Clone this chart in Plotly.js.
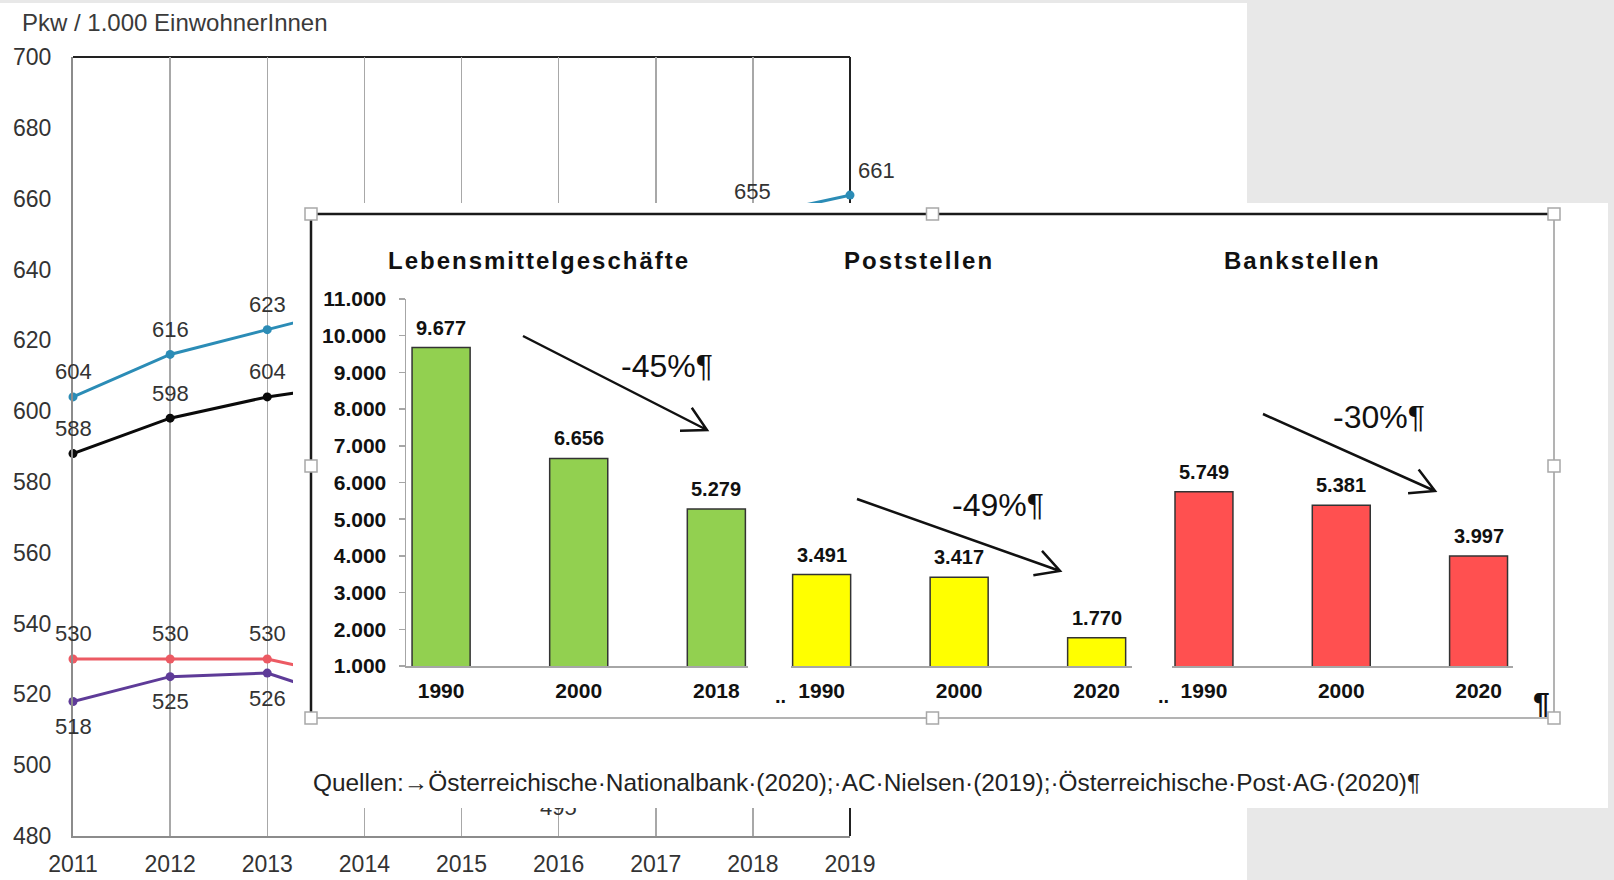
<!DOCTYPE html>
<html><head><meta charset="utf-8">
<script src="https://cdn.plot.ly/plotly-3.0.1.min.js"></script>
<style>
html,body{margin:0;padding:0;background:#e8e8e8;width:1614px;height:880px;overflow:hidden;}
#bg{position:absolute;left:0;top:3px;width:1247px;height:877px;background:#fff;}
#ov{position:absolute;left:293px;top:203px;width:1315px;height:605px;background:#fff;}
#ov .annotation[data-index="0"] text,#ov .annotation[data-index="1"] text,#ov .annotation[data-index="2"] text{letter-spacing:2px;}
</style></head><body>
<div id="bg"></div><div id="ov"></div>
<script>
// ---------- data: background line chart ----------
const years = [2011, 2012, 2013, 2014, 2015, 2016, 2017, 2018, 2019];
const blueVals = [604, 616, 623, 630, 636, 642, 648, 655, 661];
const blackVals = [588, 598, 604, 608, 612, 616, 620, 624, 628];
const redVals = [530, 530, 530, 524, 520, 517, 514, 512, 510];
const purpleVals = [518, 525, 526, 517, 506, 495, 500, 503, 505];
const yTicksLine = [480, 500, 520, 540, 560, 580, 600, 620, 640, 660, 680, 700];
const lineTitle = 'Pkw / 1.000 EinwohnerInnen';

// ---------- data: overlay bar charts ----------
const lebYears = ['1990', '2000', '2018'];
const lebVals = [9677, 6656, 5279];
const postYears = ['1990', '2000', '2020'];
const postVals = [3491, 3417, 1770];
const bankYears = ['1990', '2000', '2020'];
const bankVals = [5749, 5381, 3997];
const barTicks = [1000, 2000, 3000, 4000, 5000, 6000, 7000, 8000, 9000, 10000, 11000];
const panelTitles = ['Lebensmittelgeschäfte', 'Poststellen', 'Bankstellen'];
const changeLabels = ['-45%¶', '-49%¶', '-30%¶'];
const sourceText = 'Quellen:→Österreichische·Nationalbank·(2020);·AC·Nielsen·(2019);·Österreichische·Post·AG·(2020)¶';

const FONT = 'Arial, "Liberation Sans", sans-serif';

// overlay box on the page (pixels)
const OX = 293, OY = 203, OW = 1315, OH = 605;

// ================= background line chart =================
(function () {
  const ML = 73, MT = 54, PW = 777, PH = 779, TOP = 3;
  const series = [
    {vals: blueVals, color: '#2b8cb6', dir: 1},
    {vals: blackVals, color: '#0a0a0a', dir: 1},
    {vals: redVals, color: '#ec5a63', dir: 1},
    {vals: purpleVals, color: '#5e3b98', dir: -1}
  ];
  const traces = series.map(s => ({
    type: 'scatter', mode: 'lines+markers', x: years, y: s.vals,
    line: {color: s.color, width: 3}, marker: {size: 9, color: s.color},
    cliponaxis: false, hoverinfo: 'skip'
  }));
  // page position of a label, used only to skip labels that the overlay box covers
  const covered = (yr, v, dir) => {
    const x = ML + (yr - years[0]) / (years[years.length - 1] - years[0]) * PW;
    const y = TOP + MT + (700 - v) / 220 * PH - dir * 25;
    return x > OX && x < OX + OW && y > OY + 8 && y < OY + OH - 8;
  };
  const annots = [];
  series.forEach((s, si) => s.vals.forEach((v, i) => {
    if (covered(years[i], v, s.dir)) return;
    annots.push({
      x: years[i], y: v, xref: 'x', yref: 'y', text: String(v), showarrow: false,
      yanchor: 'middle', yshift: s.dir * 25,
      xshift: (si === 0 && i === years.length - 1) ? 26 : 0,
      font: {family: FONT, size: 22, color: '#333'}
    });
  }));
  annots.push({
    text: lineTitle, xref: 'paper', yref: 'paper', x: (20 - ML) / PW, y: 1 + 34.4 / PH,
    xanchor: 'left', yanchor: 'middle', showarrow: false,
    font: {family: FONT, size: 24, color: '#3a3a3a'}
  });
  const layout = {
    width: 1247, height: 877,
    margin: {l: ML, r: 1247 - ML - PW, t: MT, b: 877 - MT - PH, pad: 0},
    paper_bgcolor: '#ffffff', plot_bgcolor: '#ffffff', showlegend: false,
    xaxis: {
      range: [2011, 2019], tickvals: years, showgrid: true, gridcolor: '#a8a8a8', gridwidth: 1.5,
      showline: true, linecolor: '#8c8c8c', linewidth: 2, ticks: '', zeroline: false,
      tickfont: {family: FONT, size: 23, color: '#333'}, ticklabelstandoff: 6
    },
    yaxis: {
      range: [480, 700], tickvals: yTicksLine, showgrid: false, showline: true,
      linecolor: '#8c8c8c', linewidth: 2, ticks: '', zeroline: false,
      tickfont: {family: FONT, size: 23, color: '#333'}, ticklabelstandoff: 15
    },
    shapes: [
      {type: 'line', xref: 'paper', yref: 'paper', x0: 0, x1: 1, y0: 1, y1: 1, line: {color: '#222', width: 2}, layer: 'between'},
      {type: 'line', xref: 'paper', yref: 'paper', x0: 1, x1: 1, y0: 0, y1: 1, line: {color: '#222', width: 2}, layer: 'between'}
    ],
    annotations: annots
  };
  Plotly.newPlot('bg', traces, layout, {staticPlot: true, displayModeBar: false});
})();

// ================= overlay with bar charts =================
(function () {
  const px = x => (x - OX) / OW;
  const py = y => 1 - (y - OY) / OH;
  const yDom = [py(666), py(299)];
  const panels = [
    {cats: lebYears, vals: lebVals, color: '#92d050', xd: [406, 748], xr: [-0.255, 2.23]},
    {cats: postYears, vals: postVals, color: '#ffff00', xd: [790.7, 1131.7], xr: [-0.225, 2.255]},
    {cats: bankYears, vals: bankVals, color: '#ff5050', xd: [1171.7, 1513.3], xr: [-0.235, 2.253]}
  ];
  const fmt = v => String(v).replace(/\B(?=(\d{3})+(?!\d))/g, '.');
  const traces = [];
  const layout = {
    width: OW, height: OH, margin: {l: 0, r: 0, t: 0, b: 0, pad: 0},
    paper_bgcolor: '#ffffff', plot_bgcolor: 'rgba(0,0,0,0)', showlegend: false,
    separators: ',.', bargap: 0.578, shapes: [], annotations: []
  };
  const titlePos = [[539, 260], [919, 261], [1302, 261]];
  panelTitles.forEach((t, i) => layout.annotations.push({
    text: t, xref: 'paper', yref: 'paper', x: px(titlePos[i][0]), y: py(titlePos[i][1]),
    xanchor: 'center', yanchor: 'middle', showarrow: false,
    font: {family: FONT, size: 24, color: '#111', weight: 'bold'}
  }));
  panels.forEach((p, i) => {
    const n = i === 0 ? '' : String(i + 1);
    traces.push({
      type: 'bar', x: p.cats, y: p.vals, xaxis: 'x' + n, yaxis: 'y' + n,
      marker: {color: p.color, line: {color: '#333', width: 1.5}}, hoverinfo: 'skip'
    });
    layout['xaxis' + n] = {
      domain: [px(p.xd[0]), px(p.xd[1])], range: p.xr, type: 'category', anchor: 'y' + n,
      showline: true, linecolor: '#a6a6a6', linewidth: 2, ticks: '', showgrid: false, zeroline: false,
      tickfont: {family: FONT, size: 21, color: '#111', weight: 'bold'}, ticklabelstandoff: 5
    };
    const ya = {
      domain: yDom, range: [1000, 11000], anchor: 'x' + n, showgrid: false, zeroline: false
    };
    if (i === 0) {
      Object.assign(ya, {
        tickvals: barTicks, tickformat: ',d', showline: true, linecolor: '#a6a6a6', linewidth: 1.5,
        ticks: 'outside', ticklen: 6, tickcolor: '#a6a6a6', tickwidth: 1.5,
        tickfont: {family: FONT, size: 21, color: '#111', weight: 'bold'}, ticklabelstandoff: 8
      });
    } else {
      Object.assign(ya, {visible: false});
    }
    layout['yaxis' + n] = ya;
    // value labels above the bars (category position = index)
    p.vals.forEach((v, j) => layout.annotations.push({
      x: j, y: v, xref: 'x' + n, yref: 'y' + n, text: fmt(v), showarrow: false,
      xanchor: 'center', yanchor: 'bottom', yshift: 7,
      font: {family: FONT, size: 20, color: '#111', weight: 'bold'}
    }));
  });
  // percentage labels
  const changePos = [[667, 366], [998, 505], [1379, 417]];
  changeLabels.forEach((t, i) => layout.annotations.push({
    text: t, xref: 'paper', yref: 'paper', x: px(changePos[i][0]), y: py(changePos[i][1]),
    xanchor: 'center', yanchor: 'middle', showarrow: false,
    font: {family: FONT, size: 32, color: '#111'}
  }));
  // formatting marks
  [[780, 696], [1163, 696]].forEach(q => layout.annotations.push({
    text: '..', xref: 'paper', yref: 'paper', x: px(q[0]), y: py(q[1]),
    xanchor: 'center', yanchor: 'middle', showarrow: false,
    font: {family: FONT, size: 20, color: '#111', weight: 'bold'}
  }));
  layout.annotations.push({
    text: '¶', xref: 'paper', yref: 'paper', x: px(1541), y: py(702),
    xanchor: 'center', yanchor: 'middle', showarrow: false,
    font: {family: FONT, size: 30, color: '#111', weight: 'bold'}
  });
  layout.annotations.push({
    text: sourceText, xref: 'paper', yref: 'paper', x: px(311), y: py(782),
    xanchor: 'left', yanchor: 'middle', showarrow: false,
    font: {family: FONT, size: 24.4, color: '#222'}
  });
  // frame
  const L = 311, R = 1554, T = 214, B = 718, M = 932.5, MY = 466;
  const ln = (x0, y0, x1, y1, c, w) => ({type: 'line', xref: 'paper', yref: 'paper',
    x0: px(x0), y0: py(y0), x1: px(x1), y1: py(y1), line: {color: c, width: w}, layer: 'above'});
  layout.shapes.push(ln(L, T, R, T, '#1a1a1a', 2.5));
  layout.shapes.push(ln(L, T, L, B, '#1a1a1a', 2.5));
  layout.shapes.push(ln(R, T, R, B, '#9a9a9a', 1.5));
  layout.shapes.push(ln(L, B, R, B, '#9a9a9a', 1.5));
  [[L, T], [M, T], [R, T], [L, MY], [R, MY], [L, B], [M, B], [R, B]].forEach(h => layout.shapes.push({
    type: 'rect', xref: 'paper', yref: 'paper', x0: px(h[0] - 6), x1: px(h[0] + 6), y0: py(h[1] - 6), y1: py(h[1] + 6),
    fillcolor: '#ffffff', line: {color: '#a8a8a8', width: 1.5}, layer: 'above'
  }));
  // arrows
  const arrows = [[523, 336, 707, 430], [857, 499, 1060, 571], [1263, 414, 1435, 491]];
  arrows.forEach(a => {
    const [x1, y1, x2, y2] = a;
    const ang = Math.atan2(y2 - y1, x2 - x1), len = 27, spread = 0.5;
    const h1 = [x2 - len * Math.cos(ang - spread), y2 - len * Math.sin(ang - spread)];
    const h2 = [x2 - len * Math.cos(ang + spread), y2 - len * Math.sin(ang + spread)];
    const P = (x, y) => px(x).toFixed(5) + ',' + py(y).toFixed(5);
    layout.shapes.push({
      type: 'path', xref: 'paper', yref: 'paper',
      path: 'M' + P(x1, y1) + 'L' + P(x2, y2) + 'M' + P(h1[0], h1[1]) + 'L' + P(x2, y2) + 'L' + P(h2[0], h2[1]),
      line: {color: '#111', width: 2.5}, layer: 'above'
    });
  });
  Plotly.newPlot('ov', traces, layout, {staticPlot: true, displayModeBar: false});
})();
</script></body></html>
